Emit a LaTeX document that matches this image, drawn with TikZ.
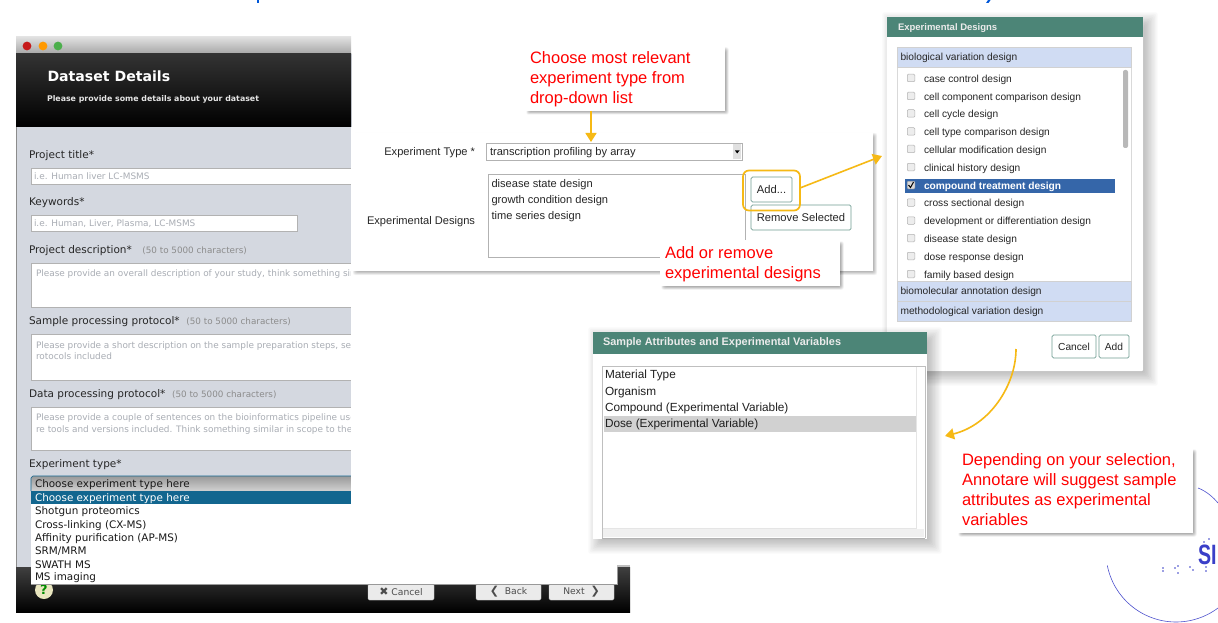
\documentclass[tikz,border=0pt]{standalone}
\usepackage{fontspec}
\usepackage{graphicx}
\setmainfont{Liberation Sans}
\newfontfamily\uifont{DejaVu Sans}
\usetikzlibrary{arrows.meta,calc}
\definecolor{teal}{HTML}{4C8577}
\definecolor{orangeline}{HTML}{F6B915}
\definecolor{winbody}{HTML}{D4D8E0}
\definecolor{accord}{HTML}{D0DCF3}
\definecolor{selblue}{HTML}{3566A9}
\definecolor{ddblue}{HTML}{12668F}
\definecolor{hintgray}{HTML}{A9ADB4}
\definecolor{logoblue}{HTML}{3A3FC8}
\newcommand{\softshadow}[5]{% x1 y1 x2 y2 blur
  \foreach \k in {1,...,16}{
    \fill[black,opacity=0.024,rounded corners=2pt]
      ({#1-#5+\k*#5/8},{#2-#5+\k*#5/8}) rectangle ({#3+#5-\k*#5/8},{#4+#5-\k*#5/8});
  }}
\tikzset{
  px/.style={inner sep=0pt,outer sep=0pt},
  uilabel/.style={px,anchor=west,yshift=-0.8pt,font=\uifont\fontsize{10.5}{12}\selectfont,text=black!85},
  uihint/.style={px,anchor=west,yshift=-0.6pt,font=\uifont\fontsize{8.9}{10}\selectfont,text=hintgray},
  uiitem/.style={px,anchor=west,yshift=-0.8pt,font=\uifont\fontsize{10.4}{12}\selectfont,text=black!90},
  field/.style={draw=black!30,line width=0.8pt,fill=white},
  winbtn/.style={draw=black!20,fill=black!8,rounded corners=1.5pt,px,font=\uifont\fontsize{9.2}{11}\selectfont,text=black!70},
  lab/.style={px,anchor=west,yshift=-0.8pt,font=\fontsize{11.1}{13}\selectfont,text=black!85},
  labr/.style={px,anchor=east,yshift=-1.6pt,font=\fontsize{11.1}{13}\selectfont,text=black!85},
  dlab/.style={px,anchor=west,yshift=-0.8pt,font=\fontsize{10.2}{12}\selectfont,text=black!85},
  webbtn/.style={draw=teal!80,line width=0.7pt,fill=white,rounded corners=1.5pt,px,font=\fontsize{11.2}{13}\selectfont,text=black!85},
  dbtn/.style={webbtn,font=\fontsize{10.2}{12}\selectfont},
  callout/.style={fill=white,px},
  calltext/.style={px,anchor=north west,align=left,font=\fontsize{16.5}{19.7}\selectfont,text=red},
  head/.style={fill=teal,px},
  headtext/.style={px,anchor=west,yshift=-0.6pt,font=\bfseries\fontsize{10.9}{13}\selectfont,text=white!92!black},
  accordhead/.style={fill=accord,draw=black!18,line width=0.4pt,px},
  chk/.style={draw=black!30,fill=black!7,rounded corners=1pt,line width=0.5pt,minimum size=7.5pt,px},
  oarrow/.style={draw=orangeline,line width=1.6pt,-{Triangle[length=9pt,width=11pt]}},
  vitem/.style={px,anchor=west,yshift=-0.8pt,font=\fontsize{11.8}{14}\selectfont,text=black!88},
}
\begin{document}
\begin{tikzpicture}[x=1pt,y=-1pt]
\useasboundingbox (0,0) rectangle (1218,623);
\fill[white] (0,0) rectangle (1218,623);
% clipped title fragments at the very top
\fill[blue!60!cyan!85!black] (256.5,0) rectangle (259,3);
\fill[blue!60!cyan!85!black] (986,3) -- (988,0) -- (990.5,0) -- (988.5,3) -- cycle;
% logo
\draw[logoblue!90,line width=0.6pt] (1198,488) .. controls (1206,491) and (1213,497) .. (1218,503);
\draw[logoblue!90,line width=0.6pt,smooth] plot[domain=169:53,samples=50] ({1176+70*cos(\x)},{552+70*sin(\x)});
\begin{scope}
\clip (1190,535) rectangle (1218,575);
\node[px,anchor=west,text=logoblue,font=\bfseries\fontsize{28}{30}\selectfont] (logotext) at (1198,555) {\scalebox{.7}[1]{SI}};
\end{scope}
\foreach \p in {(1163,568),(1163,571),(1178,566),(1175,568),(1178,573),(1190,567),(1193,570),(1206,567),(1206,571),(1204,542),(1209,539)}
  \fill[logoblue] \p circle (0.9);
% ---------- left window
\fill[winbody] (16,54) rectangle (352,567);
\draw[black!45,line width=1pt] (16.5,54) -- (16.5,567);
\shade[top color=black!12,bottom color=black!35] (16,37) rectangle (351,54);
\fill[red!75!black!90] (27,46) circle (4.4);
\fill[orange!80!yellow] (43,46) circle (4.4);
\fill[green!55!black!70] (58,46) circle (4.4);
\shade[top color=black!80,bottom color=black] (16,54) rectangle (351,127);
\node[px,anchor=west,text=white,font=\uifont\bfseries\fontsize{14.1}{16}\selectfont] (wintitle) at (47.5,76) {Dataset Details};
\node[px,anchor=west,text=white!90!black,font=\uifont\bfseries\fontsize{7.85}{9}\selectfont] (winsub) at (47,99) {Please provide some details about your dataset};
% fields
\node[uilabel] (l1) at (29,155) {Project title*};
\draw[field] (31,168) rectangle (360,184);
\node[uihint] at (34,175.5) {i.e. Human liver LC-MSMS};
\node[uilabel] (l2) at (29,202) {Keywords*};
\draw[field] (31,215) rectangle (297,231);
\node[uihint] at (34,223) {i.e. Human, Liver, Plasma, LC-MSMS};
\node[uilabel] (l3) at (29,249.5) {Project description*\quad{\fontsize{8.8}{9}\selectfont\color{black!45}(50 to 5000 characters)}};
\draw[field] (31,263) rectangle (360,307);
\node[uihint] at (36,273) {Please provide an overall description of your study, think something sin};
\node[uilabel] (l4) at (29,321) {Sample processing protocol*\ \ {\fontsize{8.8}{9}\selectfont\color{black!45}(50 to 5000 characters)}};
\draw[field] (31,334) rectangle (360,380);
\node[uihint] at (36,345) {Please provide a short description on the sample preparation steps, se};
\node[uihint] at (36,356) {rotocols included};
\node[uilabel] (l5) at (29,394) {Data processing protocol*\ \ {\fontsize{8.8}{9}\selectfont\color{black!45}(50 to 5000 characters)}};
\draw[field] (31,407) rectangle (360,450);
\node[uihint] at (36,417.5) {Please provide a couple of sentences on the bioinformatics pipeline use};
\node[uihint] at (36,429) {re tools and versions included. Think something similar in scope to the};
\node[uilabel] (l6) at (29,464) {Experiment type*};
\shade[top color=black!40,bottom color=black!18,rounded corners=2pt] (31,476) rectangle (360,491);
\draw[ddblue,line width=0.7pt] (31,491) -- (31,478) -- (33,476) -- (360,476);
\fill[ddblue] (31,491) rectangle (360,504);
\node[uiitem] (dd0) at (35,484) {Choose experiment type here};
\node[uiitem,text=white] (dd1) at (35,498) {Choose experiment type here};
% cut-off line of the window (page white beyond it)
\fill[white] (351.2,127) rectangle (617,566);
% bottom bar
\shade[top color=black!75,bottom color=black] (16,567) rectangle (630,612);
\fill[black!25] (617,565) rectangle (630,567);
\fill[white!80!yellow!90!black] (44,590) circle (9);
\node[px,text=green!55!black,font=\uifont\bfseries\fontsize{13}{15}\selectfont] (help) at (44,590) {?};
\node[winbtn,minimum width=66pt,minimum height=16pt,anchor=north west] (cancelw) at (368,584) {\textbf{\fontsize{11}{11}\selectfont\char"2716}\ Cancel};
\node[winbtn,minimum width=65pt,minimum height=16pt,anchor=north west] (backw) at (476,584) {\textbf{\fontsize{11}{11}\selectfont ❮}\ \ Back};
\node[winbtn,minimum width=65pt,minimum height=16pt,anchor=north west] (nextw) at (549,584) {Next\ \ \textbf{\fontsize{11}{11}\selectfont ❯}};
% dropdown list
\fill[white] (31,504) rectangle (617,584);
\draw[black!40,line width=0.5pt] (617,567) -- (617,584) -- (31,584);
\node[uiitem] (dd2) at (35,511) {Shotgun proteomics};
\node[uiitem] (dd3) at (35,524.5) {Cross-linking (CX-MS)};
\node[uiitem] (dd4) at (35,537.5) {Affinity purification (AP-MS)};
\node[uiitem] (dd5) at (35,550.5) {SRM/MRM};
\node[uiitem] (dd6) at (35,564) {SWATH MS};
\node[uiitem] (dd7) at (35,577) {MS imaging};
% ---------- middle panel
\softshadow{355}{135}{875}{273}{2.5}
\fill[white] (352,133) rectangle (873,271);
\node[labr] (exptype) at (475,151) {Experiment Type *};
\node[labr] (expdes) at (475,220) {Experimental Designs};
\node[px,draw=black!30,line width=0.6pt,fill=white,minimum width=256pt,minimum height=17pt,anchor=north west] (typebox) at (486,143) {};
\node[lab] at (490,151.5) {transcription profiling by array};
\fill[black!12] (733,144) rectangle (741,159);
\fill[black] (735,150.5) -- (739.5,150.5) -- (737.2,153.5) -- cycle;
\draw[black!30,line width=0.6pt] (488,174) rectangle (745,257);
\node[lab] (d1) at (491.5,184) {disease state design};
\node[lab] (d2) at (491.5,200) {growth condition design};
\node[lab] (d3) at (491.5,215.5) {time series design};
\node[webbtn,minimum width=41pt,minimum height=25pt,anchor=north west] (addb) at (751,177) {Add...};
\node[webbtn,minimum width=100pt,minimum height=25pt,anchor=north west] (remb) at (751,205) {Remove Selected};
\node[draw=orangeline,line width=1.7pt,rounded corners=6pt,px,minimum width=57pt,minimum height=40pt,anchor=north west] (addring) at (743,170.5) {};
% callouts
\softshadow{528}{49}{727}{113}{2}
\node[callout,minimum width=200pt,minimum height=65pt,anchor=north west] (c1) at (525,46) {};
\node[calltext] at (530,52) {Choose most relevant\\experiment type from\\drop-down list};
\softshadow{663}{243}{842}{288}{2}
\node[callout,minimum width=180pt,minimum height=46pt,anchor=north west] (c2) at (660,240) {};
\node[calltext] at (665,247) {Add or remove\\experimental designs};
\coordinate (typetop) at (591,142);
\draw[oarrow] (c1.south -| typetop) -- (typetop);
% ---------- right dialog
\softshadow{892}{22}{1148}{376}{11}
\fill[white,rounded corners=1pt] (887,17) rectangle (1143,371);
\node[head,minimum width=256pt,minimum height=20pt,anchor=north west] (h1) at (887,17) {};
\node[headtext,font=\bfseries\fontsize{9.5}{12}\selectfont] at (898,27) {Experimental Designs};
\draw[black!15,line width=0.5pt] (897,67) rectangle (1131,281);
\node[accordhead,minimum width=234pt,minimum height=20pt,anchor=north west] (a1) at (897,47) {};
\node[dlab] at (900.5,57) {biological variation design};
\fill[black!28,rounded corners=2pt] (1123,70) rectangle (1128,148);
\fill[selblue] (905,179) rectangle (1115,193);
\foreach \yy/\tt in {79/case control design,97/cell component comparison design,114.5/cell cycle design,132.5/cell type comparison design,150/cellular modification design,168/clinical history design,203.5/cross sectional design,221.5/development or differentiation design,239/disease state design,257/dose response design,275/family based design}{
  \node[chk] at (911,\yy-1) {};
  \node[dlab] at (924,\yy) {\tt};
}
\node[chk,fill=white!85!black] (chk7) at (911,185) {};
\draw[black,line width=1pt] (908.5,185) -- (910.5,187.5) -- (913.5,182);
\node[dlab,text=white] (sel) at (924,186) {\textbf{compound treatment design}};
\node[accordhead,minimum width=234pt,minimum height=20pt,anchor=north west] (a2) at (897,281) {};
\node[dlab] at (900.5,291) {biomolecular annotation design};
\node[accordhead,minimum width=234pt,minimum height=20pt,anchor=north west] (a3) at (897,301) {};
\node[dlab] at (900.5,311) {methodological variation design};
\node[dbtn,minimum width=44pt,minimum height=23pt,anchor=north west] (cb) at (1052,335) {Cancel};
\node[dbtn,minimum width=30pt,minimum height=23pt,anchor=north west] (ab) at (1099,335) {Add};
% arrow Add -> dialog
\coordinate (dlgin) at (882,156);
\draw[oarrow] (addring.east |- 800,188) -- (dlgin);
% ---------- bottom dialog
\softshadow{598}{337}{932}{544}{11}
\fill[white] (593,332) rectangle (927,539);
\node[head,minimum width=334pt,minimum height=22pt,anchor=north west] (h2) at (593,332) {};
\node[headtext] at (603,342.5) {Sample Attributes and Experimental Variables};
\draw[black!25,line width=0.6pt] (602,538) -- (602,366) -- (925,366) -- (925,538);
\draw[black!10,line width=0.6pt] (916,367) -- (916,528) -- (603,528);
\fill[black!6] (603,529) rectangle (924,537);
\draw[black!30,line width=0.6pt] (602,538) -- (925,538);
\fill[black!18] (604,416) rectangle (916,432);
\node[vitem] (v1) at (605,375) {Material Type};
\node[vitem] (v2) at (605,391.5) {Organism};
\node[vitem] (v3) at (605,408) {Compound (Experimental Variable)};
\node[vitem] (v4) at (605,424) {Dose (Experimental Variable)};
\softshadow{960}{451}{1195}{535}{2}
\node[callout,minimum width=236pt,minimum height=85pt,anchor=north west] (c3) at (957,448) {};
\node[calltext] at (962,454) {Depending on your selection,\\Annotare will suggest sample\\attributes as experimental\\variables};
\coordinate (curvestart) at (1016,349);
\coordinate (curveend) at (945,436);
\draw[oarrow] (curvestart) .. controls (1016,385) and (990,425) .. (curveend);
\end{tikzpicture}
\end{document}
